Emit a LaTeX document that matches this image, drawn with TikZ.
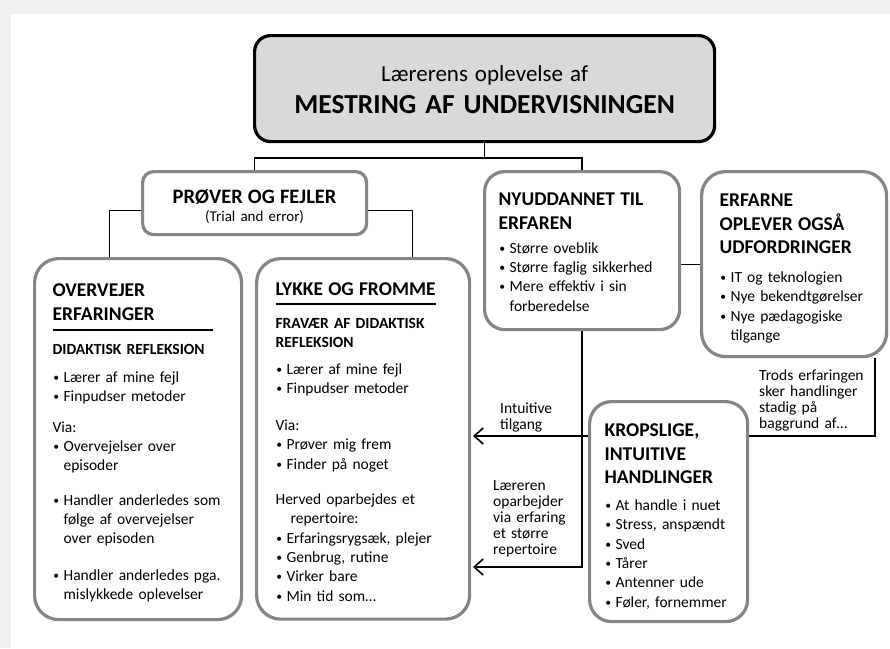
\documentclass[tikz,border=0pt]{standalone}
\usepackage{fontspec}
\usepackage{graphicx}
\setmainfont{Carlito}
\usetikzlibrary{arrows.meta,calc}
\definecolor{pagegray}{HTML}{F0F0F0}
\definecolor{boxgray}{HTML}{858585}
\definecolor{titlefill}{HTML}{D9D9D9}
\setlength{\parindent}{0pt}
\setlength{\parskip}{0pt}
\newcommand{\txfont}{\fontsize{15.5}{19.3}\selectfont}
\newcommand{\hdfont}{\fontsize{19.5}{23.5}\selectfont\bfseries}
\newcommand{\lblfont}{\fontsize{15.5}{16}\selectfont}
\newcommand{\bul}{\makebox[11pt][l]{\hspace{0.8pt}\raisebox{1pt}{\scalebox{0.75}{\textbullet}}}}
\newcommand{\itm}[1]{\hangindent=11pt\hangafter=1\bul#1\par}
\newcommand{\headrule}{\hrule height 1.8pt width 160pt}

\begin{document}
\begin{tikzpicture}[x=1pt,y=-1pt,
  conn/.style={line width=1.6pt},
  arr/.style={conn,-{Straight Barb[length=9pt,width=16pt]}},
  box/.style={draw=boxgray,line width=3.2pt,fill=white,rounded corners=24pt,
    inner ysep=0pt,align=left,anchor=north west,font=\txfont},
  lbl/.style={inner sep=0pt,text width=115pt,align=left,anchor=base west,font=\lblfont}]
\useasboundingbox (0,0) rectangle (890,648);
\fill[pagegray] (0,0) rectangle (890,648);
\fill[white] (11,14) rectangle (890,648);

\node[draw=black,line width=3.2pt,fill=titlefill,rounded corners=16pt,anchor=north west,
  inner sep=0pt,text width=460pt,align=center,text height=46pt,text depth=60pt] (title) at (253,34)
  {{\fontsize{23}{24}\selectfont\spaceskip=7pt Lærerens oplevelse af\par}
   {\fontsize{27.5}{32}\selectfont\bfseries\spaceskip=9pt MESTRING AF UNDERVISNINGEN\par}};

\node[box,rounded corners=11pt,inner sep=0pt,text width=224pt,align=center,
  text height=32pt,text depth=31pt] (prover) at (141,170)
  {{\fontsize{20.5}{20}\selectfont\bfseries PRØVER OG FEJLER\par}
   {\fontsize{15}{18}\selectfont (Trial and error)\par}};

\node[box,inner xsep=18pt,text width=171pt,text height=38pt,text depth=323pt] (overv) at (33,257)
  {{\hdfont OVERVEJER\\ERFARINGER\par}
   \vspace{9pt}\headrule\vspace{11.1pt}
   {\bfseries\rule{0pt}{12pt}DIDAKTISK REFLEKSION\par}
   \vspace{8.7pt}
   \itm{Lærer af mine fejl}
   \itm{Finpudser metoder}
   \vspace{11.4pt}
   Via:\par
   \itm{Overvejelser over\newline episoder}
   \vspace{15.1pt}
   \itm{Handler anderledes som\newline følge af overvejelser\newline over episoden}
   \vspace{17.1pt}
   \itm{Handler anderledes pga.\newline mislykkede oplevelser}};

\node[box,inner xsep=19pt,text width=175pt,text height=37pt,text depth=323.5pt] (lykke) at (255,257)
  {{\hdfont LYKKE OG FROMME\par}
   \vspace{7pt}\headrule\vspace{12.1pt}
   {\bfseries\rule{0pt}{12pt}FRAVÆR AF DIDAKTISK\\REFLEKSION\par}
   \vspace{7.4pt}
   \itm{Lærer af mine fejl}
   \itm{Finpudser metoder}
   \vspace{17.4pt}
   Via:\par
   \itm{Prøver mig frem}
   \itm{Finder på noget}
   \vspace{16.1pt}
   \hangindent=15pt\hangafter=1 Herved oparbejdes et\newline repertoire:\par
   \itm{Erfaringsrygsæk, plejer}
   \itm{Genbrug, rutine}
   \itm{Virker bare}
   \itm{Min tid som…}};

\node[box,rounded corners=20pt,inner xsep=14pt,text width=167pt,text height=34pt,text depth=124pt] (nyudd) at (483,170)
  {{\hdfont NYUDDANNET TIL\\ERFAREN\par}
   \vspace{4.7pt}
   \itm{Større oveblik}
   \itm{Større faglig sikkerhed}
   \itm{Mere effektiv i sin\newline forberedelse}};

\node[box,inner xsep=18pt,text width=149pt,text height=35pt,text depth=150pt] (erfarne) at (700,170)
  {{\hdfont ERFARNE\\OPLEVER OGSÅ\\UDFORDRINGER\par}
   \vspace{9.7pt}
   \itm{IT og teknologien}
   \itm{Nye bekendtgørelser}
   \itm{Nye pædagogiske\newline tilgange}};

\node[box,rounded corners=22pt,inner xsep=15pt,text width=128pt,text height=35pt,text depth=185pt] (krop) at (588,400)
  {{\hdfont KROPSLIGE,\\INTUITIVE\\HANDLINGER\par}
   \vspace{7.7pt}
   \itm{At handle i nuet}
   \itm{Stress, anspændt}
   \itm{Sved}
   \itm{Tårer}
   \itm{Antenner ude}
   \itm{Føler, fornemmer}};

\coordinate (intend) at (473,436);
\coordinate (repend) at (473,567);
\coordinate (nyright) at ($(nyudd.east)+(0,14)$);
\coordinate (erfk) at ($(erfarne.south east)+(-13,0)$);

\draw[conn] (title.south) -- ++(0,15) -| (prover.north);
\draw[conn] (title.south) -- ++(0,15) -| (nyudd.north);
\draw[conn] ($(prover.west)+(0,7.5)$) -| ($(overv.north)+(-28.5,0)$);
\draw[conn] ($(prover.east)+(0,7.5)$) -| ($(lykke.north)+(49.5,0)$);
\draw[conn] (nyright) -- (nyright -| erfarne.west);
\draw[arr] (nyudd.south) |- (repend);
\draw[arr] (krop.west |- intend) -- (intend);
\draw[conn] (erfk) |- (krop.east |- intend);

\node[lbl] (intlbl) at (500,413) {Intuitive\\tilgang};
\node[lbl] (replbl) at (493,490) {Læreren\\oparbejder\\via erfaring\\et større\\repertoire};
\node[lbl] (trodslbl) at (759,380) {Trods erfaringen\\sker handlinger\\stadig på\\baggrund af…};
\end{tikzpicture}
\end{document}
